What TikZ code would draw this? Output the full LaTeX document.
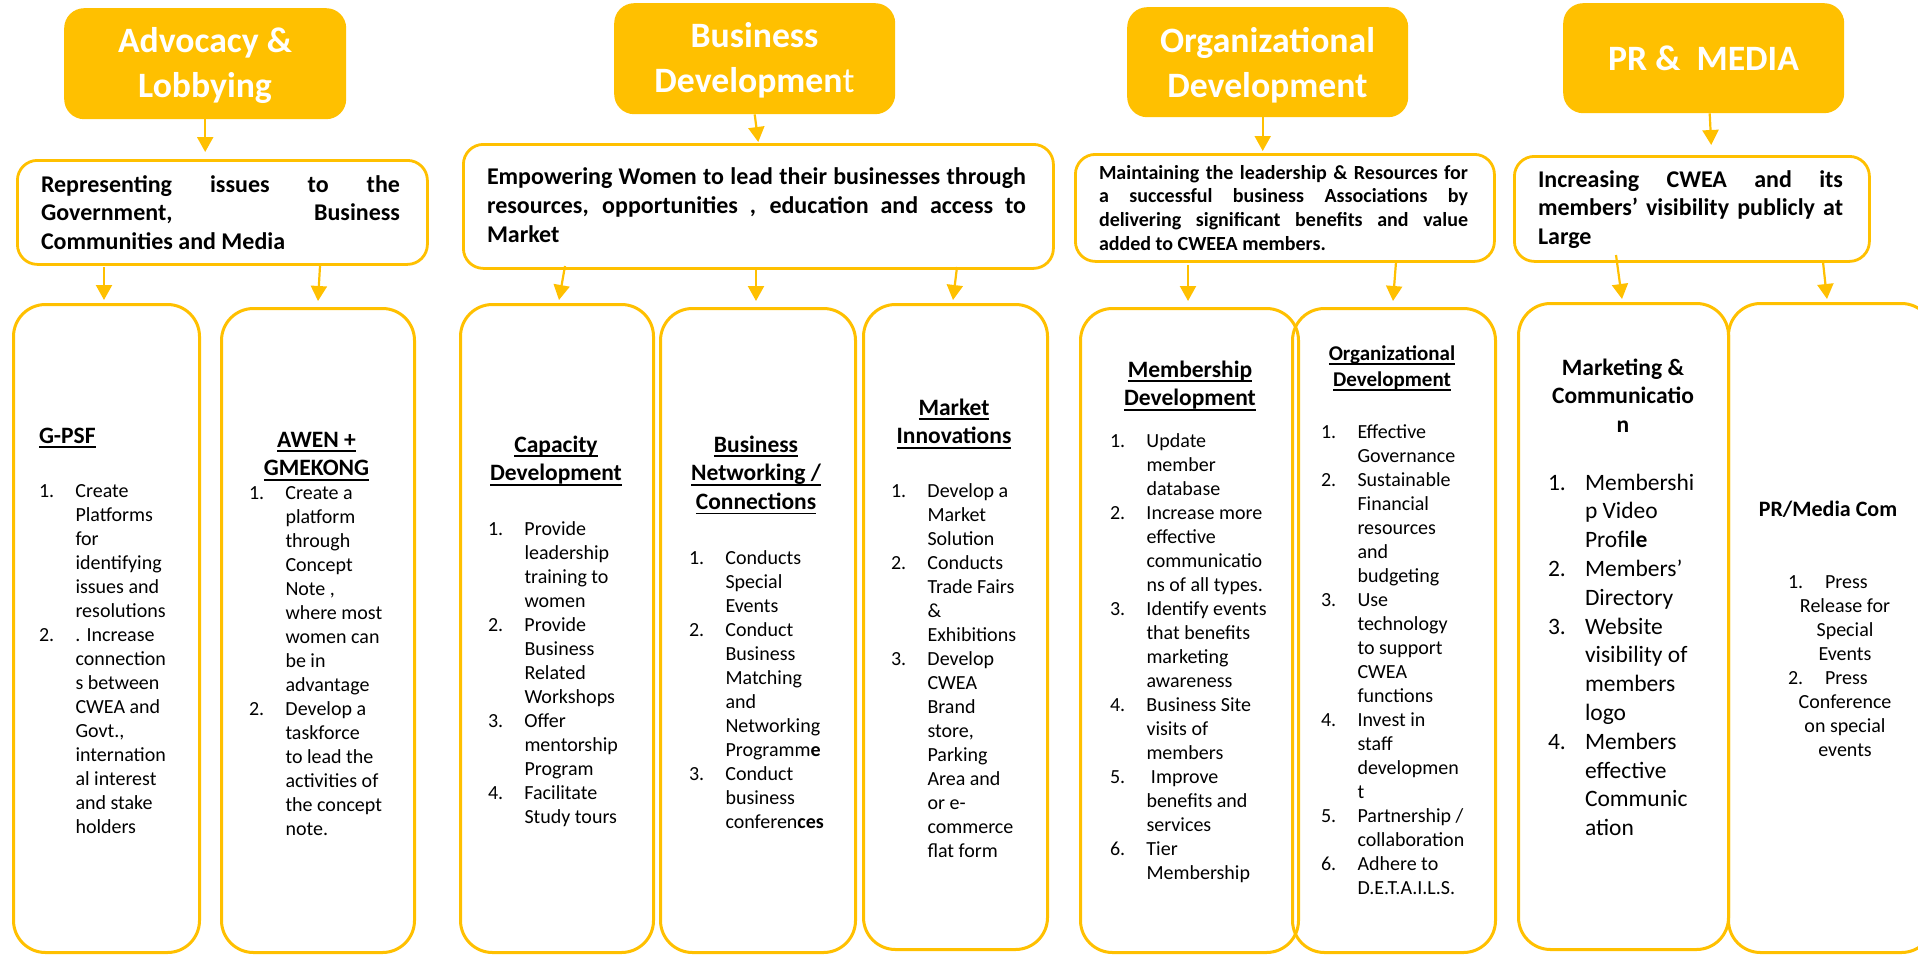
\documentclass[tikz,border=0pt]{standalone}
\usepackage{fontspec}
\setmainfont{Carlito}
\usetikzlibrary{arrows.meta}
\definecolor{gold}{HTML}{FFC000}
\newcommand\ulin[1]{\setbox0=\hbox{#1}\rlap{\rule[-5pt]{\wd0}{1.6pt}}\box0}
\newcommand\numitem[1]{\makebox[36.5pt][l]{#1}}
\newcommand\skipnum{\hspace*{36.5pt}}
\newcommand\numitemL[1]{\makebox[37pt][l]{#1}}
\newcommand\skipnumL{\hspace*{37pt}}
\newcommand\justline[2]{\makebox[#1][s]{#2}}
\newcommand\ftitle{\bfseries\fontsize{35.7}{44.5}\selectfont}
\newcommand\fdesc{\bfseries\fontsize{24}{28.5}\selectfont}
\newcommand\fdescb{\bfseries\fontsize{24}{29}\selectfont}
\newcommand\fdescs{\bfseries\fontsize{20}{23.8}\selectfont}
\newcommand\fhead{\bfseries\fontsize{23.5}{28.7}\selectfont}
\newcommand\fheads{\bfseries\fontsize{21}{26}\selectfont}
\newcommand\flist{\fontsize{20}{24}\selectfont}
\newcommand\flistL{\fontsize{23.5}{28.8}\selectfont}
\tikzset{
 titlebox/.style={fill=gold, draw=none, rounded corners=20pt, inner sep=0pt, anchor=north west},
 descbox/.style={draw=gold, line width=2.8pt, rounded corners=20pt, inner sep=0pt, anchor=north west},
 colbox/.style={draw=gold, line width=3pt, rounded corners=32pt, inner sep=0pt, anchor=north west},
 conn/.style={gold, line width=2.2pt, -{Triangle[width=16pt,length=15pt]}},
 lbl/.style={inner sep=0pt, outer sep=0pt},
}
\begin{document}
\begin{tikzpicture}[x=1pt, y=-1pt]
\useasboundingbox (0,0) rectangle (1918,955);
\fill[white] (0,0) rectangle (1918,955);

% title boxes
\node[titlebox, minimum width=282pt, minimum height=111pt] (t1) at (64,8) {};
\node[titlebox, minimum width=281pt, minimum height=111pt] (t2) at (614,3) {};
\node[titlebox, minimum width=281pt, minimum height=110pt] (t3) at (1127,7) {};
\node[titlebox, minimum width=281pt, minimum height=110pt] (t4) at (1563,3) {};

\node[lbl, anchor=base, text=white, font=\ftitle] (t1txt) at (205,53) {\begin{tabular}[t]{@{}c@{}}Advocacy \&\\Lobbying\end{tabular}};
\node[lbl, anchor=base, text=white, font=\ftitle] (t2txt) at (754.5,48) {\begin{tabular}[t]{@{}c@{}}Business\\Developmen{\mdseries t}\end{tabular}};
\node[lbl, anchor=base, text=white, font=\ftitle] (t3txt) at (1267.5,53) {\begin{tabular}[t]{@{}c@{}}Organizational\\Development\end{tabular}};
\node[lbl, anchor=base, text=white, font=\ftitle] (t4txt) at (1703.5,71) {PR \& \ MEDIA};

% description boxes
\node[descbox, minimum width=410pt, minimum height=104pt] (d1) at (16,159) {};
\node[descbox, minimum width=590pt, minimum height=124pt] (d2) at (462,143) {};
\node[descbox, minimum width=419pt, minimum height=107pt] (d3) at (1074,153) {};
\node[descbox, minimum width=355pt, minimum height=105pt] (d4) at (1513,155) {};

\node[lbl, anchor=base west, font=\fdesc] (d1txt) at (41,192) {\begin{tabular}[t]{@{}l@{}}
\justline{359pt}{Representing issues to the}\\
\justline{359pt}{Government, Business}\\
Communities and Media\end{tabular}};
\node[lbl, anchor=base west, font=\fdescb] (d2txt) at (487,184) {\begin{tabular}[t]{@{}l@{}}
\justline{539pt}{Empowering Women to lead their businesses through}\\
\justline{539pt}{resources, opportunities , education and access to}\\
Market\end{tabular}};
\node[lbl, anchor=base west, font=\fdescs] (d3txt) at (1099,179) {\begin{tabular}[t]{@{}l@{}}
\justline{369pt}{Maintaining the leadership \& Resources for}\\
\justline{369pt}{a successful business Associations by}\\
\justline{369pt}{delivering significant benefits and value}\\
added to CWEEA members.\end{tabular}};
\node[lbl, anchor=base west, font=\fdesc] (d4txt) at (1538,187) {\begin{tabular}[t]{@{}l@{}}
\justline{305pt}{Increasing CWEA and its}\\
\justline{305pt}{members’ visibility publicly at}\\
Large\end{tabular}};

% column boxes
\node[colbox, minimum width=186pt, minimum height=648pt] (c1) at (12,303) {};
\node[colbox, minimum width=193pt, minimum height=644pt] (c2) at (220,307) {};
\node[colbox, minimum width=193pt, minimum height=648pt] (c3) at (459,303) {};
\node[colbox, minimum width=195pt, minimum height=644pt] (c4) at (659,307) {};
\node[colbox, minimum width=184pt, minimum height=645pt] (c5) at (862,303) {};
\node[colbox, minimum width=218pt, minimum height=644pt] (c6) at (1079,307) {};
\node[colbox, minimum width=203pt, minimum height=644pt] (c7) at (1291,307) {};
\node[colbox, minimum width=210pt, minimum height=646pt] (c8) at (1517,302) {};
\node[colbox, minimum width=205pt, minimum height=649pt] (c9) at (1727,302) {};

% headings
\node[lbl, anchor=base west, font=\fhead] (h1) at (39,443) {\ulin{G-PSF}};
\node[lbl, anchor=base, font=\fhead] (h2) at (316.5,447) {\begin{tabular}[t]{@{}c@{}}\ulin{AWEN +}\\\ulin{GMEKONG}\end{tabular}};
\node[lbl, anchor=base, font=\fhead] (h3) at (556,452) {\begin{tabular}[t]{@{}c@{}}\ulin{Capacity}\\\ulin{Development}\end{tabular}};
\node[lbl, anchor=base, font=\fhead] (h4) at (756,452) {\begin{tabular}[t]{@{}c@{}}\ulin{Business}\\\ulin{Networking /}\\\ulin{Connections}\end{tabular}};
\node[lbl, anchor=base, font=\fhead] (h5) at (954,415) {\begin{tabular}[t]{@{}c@{}}\ulin{Market}\\\ulin{Innovations}\end{tabular}};
\node[lbl, anchor=base, font=\fhead] (h6) at (1190,377) {\begin{tabular}[t]{@{}c@{}}\ulin{Membership}\\\ulin{Development}\end{tabular}};
\node[lbl, anchor=base, font=\fheads] (h7) at (1392,360) {\begin{tabular}[t]{@{}c@{}}\ulin{Organizational}\\\ulin{Development}\end{tabular}};
\node[lbl, anchor=base, font=\fhead] (h8) at (1623,375) {\begin{tabular}[t]{@{}c@{}}Marketing \&\\Communicatio\\n\end{tabular}};
\node[lbl, anchor=base, font=\bfseries\fontsize{22}{26}\selectfont] (h9) at (1828,516) {PR/Media Com};

% lists
\node[lbl, anchor=base west, font=\flist] (l1) at (39,497) {\begin{tabular}[t]{@{}l@{}}
\numitem{1.}Create\\ \skipnum Platforms\\ \skipnum for\\ \skipnum identifying\\ \skipnum issues and\\ \skipnum resolutions\\
\numitem{2.}. Increase\\ \skipnum connection\\ \skipnum s between\\ \skipnum CWEA and\\ \skipnum Govt.,\\ \skipnum internation\\ \skipnum al interest\\ \skipnum and stake\\ \skipnum holders
\end{tabular}};
\node[lbl, anchor=base west, font=\flist] (l2) at (249,499) {\begin{tabular}[t]{@{}l@{}}
\numitem{1.}Create a\\ \skipnum platform\\ \skipnum through\\ \skipnum Concept\\ \skipnum Note ,\\ \skipnum where most\\ \skipnum women can\\ \skipnum be in\\ \skipnum advantage\\
\numitem{2.}Develop a\\ \skipnum taskforce\\ \skipnum to lead the\\ \skipnum activities of\\ \skipnum the concept\\ \skipnum note.
\end{tabular}};
\node[lbl, anchor=base west, font=\flist] (l3) at (488,535) {\begin{tabular}[t]{@{}l@{}}
\numitem{1.}Provide\\ \skipnum leadership\\ \skipnum training to\\ \skipnum women\\
\numitem{2.}Provide\\ \skipnum Business\\ \skipnum Related\\ \skipnum Workshops\\
\numitem{3.}Offer\\ \skipnum mentorship\\ \skipnum Program\\
\numitem{4.}Facilitate\\ \skipnum Study tours
\end{tabular}};
\node[lbl, anchor=base west, font=\flist] (l4) at (689,564) {\begin{tabular}[t]{@{}l@{}}
\numitem{1.}Conducts\\ \skipnum Special\\ \skipnum Events\\
\numitem{2.}Conduct\\ \skipnum Business\\ \skipnum Matching\\ \skipnum and\\ \skipnum Networking\\ \skipnum Programm\textbf{e}\\
\numitem{3.}Conduct\\ \skipnum business\\ \skipnum conferen\textbf{ces}
\end{tabular}};
\node[lbl, anchor=base west, font=\flist] (l5) at (891,497) {\begin{tabular}[t]{@{}l@{}}
\numitem{1.}Develop a\\ \skipnum Market\\ \skipnum Solution\\
\numitem{2.}Conducts\\ \skipnum Trade Fairs\\ \skipnum \&\\ \skipnum Exhibitions\\
\numitem{3.}Develop\\ \skipnum CWEA\\ \skipnum Brand\\ \skipnum store,\\ \skipnum Parking\\ \skipnum Area and\\ \skipnum or e-\\ \skipnum commerce\\ \skipnum flat form
\end{tabular}};
\node[lbl, anchor=base west, font=\flist] (l6) at (1110,447) {\begin{tabular}[t]{@{}l@{}}
\numitem{1.}Update\\ \skipnum member\\ \skipnum database\\
\numitem{2.}Increase more\\ \skipnum effective\\ \skipnum communicatio\\ \skipnum ns of all types.\\
\numitem{3.}Identify events\\ \skipnum that benefits\\ \skipnum marketing\\ \skipnum awareness\\
\numitem{4.}Business Site\\ \skipnum visits of\\ \skipnum members\\
\numitem{5.}\hspace*{4.5pt}Improve\\ \skipnum benefits and\\ \skipnum services\\
\numitem{6.}Tier\\ \skipnum Membership
\end{tabular}};
\node[lbl, anchor=base west, font=\flist] (l7) at (1321,438) {\begin{tabular}[t]{@{}l@{}}
\numitem{1.}Effective\\ \skipnum Governance\\
\numitem{2.}Sustainable\\ \skipnum Financial\\ \skipnum resources\\ \skipnum and\\ \skipnum budgeting\\
\numitem{3.}Use\\ \skipnum technology\\ \skipnum to support\\ \skipnum CWEA\\ \skipnum functions\\
\numitem{4.}Invest in\\ \skipnum staff\\ \skipnum developmen\\ \skipnum t\\
\numitem{5.}Partnership /\\ \skipnum collaboration\\
\numitem{6.}Adhere to\\ \skipnum D.E.T.A.I.L.S.
\end{tabular}};
\node[lbl, anchor=base west, font=\flistL] (l8) at (1548,490) {\begin{tabular}[t]{@{}l@{}}
\numitemL{1.}Membershi\\ \skipnumL p Video\\ \skipnumL Profi\textbf{le}\\
\numitemL{2.}Members’\\ \skipnumL Directory\\
\numitemL{3.}Website\\ \skipnumL visibility of\\ \skipnumL members\\ \skipnumL logo\\
\numitemL{4.}Members\\ \skipnumL effective\\ \skipnumL Communic\\ \skipnumL ation
\end{tabular}};
\node[lbl, anchor=base, font=\flist] (l9) at (1845,588) {\begin{tabular}[t]{@{}c@{}}
\makebox[114pt][l]{\makebox[37pt][l]{1.}Press}\\
Release for\\ Special\\ Events\\
\makebox[114pt][l]{\makebox[37pt][l]{2.}Press}\\
Conference\\ on special\\ events
\end{tabular}};

% connectors: titles to descriptions
\draw[conn, shorten >=7pt] (t1.south) -- (t1.south |- d1.north);
\draw[conn, shorten >=1pt] (t2.south) -- (d2.north);
\draw[conn, shorten >=2pt] ([xshift=-5pt]t3.south) -- ([xshift=-5pt]t3.south |- d3.north);
\draw[conn, shorten >=10pt] ([xshift=6pt]t4.south) -- ([xshift=8pt]t4.south |- d4.north);

% connectors: descriptions to columns
\coordinate (b1s) at (104,267); \coordinate (b1e) at (104,300);
\coordinate (b2s) at (320,266); \coordinate (b2e) at (318,301);
\coordinate (b3s) at (565,266); \coordinate (b3e) at (559,300);
\coordinate (b4s) at (756,268); \coordinate (b4e) at (756,301);
\coordinate (b5s) at (957,267); \coordinate (b5e) at (953,300);
\coordinate (b6s) at (1188,265); \coordinate (b6e) at (1188,301);
\coordinate (b7s) at (1396,262); \coordinate (b7e) at (1393,301);
\coordinate (b8s) at (1616,255); \coordinate (b8e) at (1622,299);
\coordinate (b9s) at (1823,262); \coordinate (b9e) at (1827,299);
\foreach \i in {1,...,9} { \draw[conn] (b\i s) -- (b\i e); }
\end{tikzpicture}
\end{document}
